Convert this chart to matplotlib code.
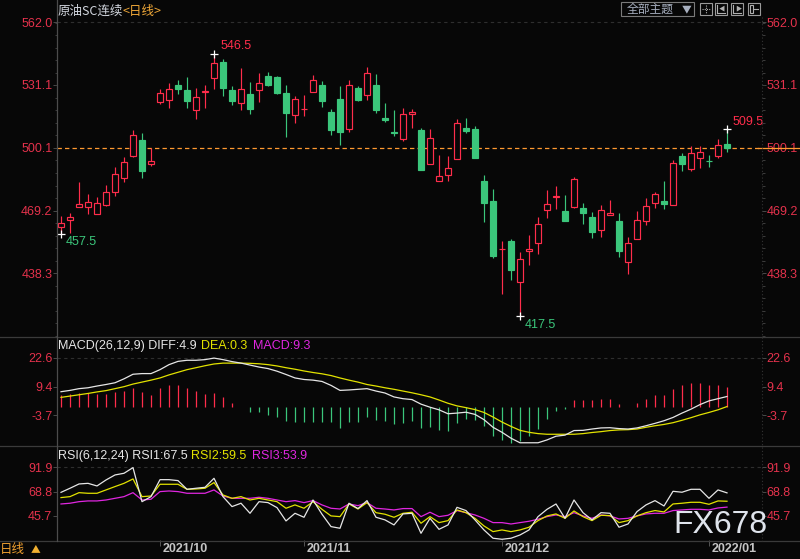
import numpy as np
import matplotlib
matplotlib.use('Agg')
import matplotlib.pyplot as plt
from matplotlib.patches import Rectangle

# ---------------- data ----------------
opens = [461.0, 464.7, 470.9, 470.9, 467.7, 472.2, 478.6, 485.5, 496.2, 504.2,
         492.4, 522.6, 523.6, 531.3, 528.4, 518.6, 527.8, 534.5, 542.2, 528.4,
         522.1, 526.9, 528.5, 535.3, 534.8, 527.4, 516.2, 519.1, 527.5, 531.3,
         518.0, 524.4, 509.3, 529.4, 526.3, 530.9, 515.0, 507.7, 504.5, 516.8,
         509.1, 492.1, 484.0, 486.5, 494.4, 510.1, 509.6, 483.9, 474.0, 450.1,
         454.2, 434.1, 449.4, 453.1, 469.4, 476.1, 469.0, 471.2, 470.4, 466.1,
         459.8, 466.9, 464.1, 444.0, 455.1, 464.0, 472.9, 474.0, 472.2, 496.2,
         489.5, 495.1, 493.8, 495.9, 501.8]
highs = [466.5, 467.9, 483.4, 477.5, 476.0, 481.9, 490.5, 495.4, 509.1, 507.5,
         500.2, 529.2, 532.3, 533.8, 534.8, 529.7, 531.3, 546.5, 543.7, 530.4,
         539.3, 532.8, 536.8, 537.3, 535.3, 530.9, 525.8, 526.4, 535.8, 533.3,
         519.5, 530.4, 533.8, 530.4, 539.8, 536.3, 522.4, 519.0, 520.0, 519.3,
         510.0, 509.5, 496.7, 496.1, 514.5, 515.0, 511.1, 486.9, 479.9, 454.2,
         455.2, 448.8, 457.2, 466.1, 479.4, 481.4, 477.0, 485.9, 473.0, 468.6,
         472.0, 474.5, 468.1, 456.2, 469.1, 475.3, 478.4, 483.9, 494.1, 497.6,
         500.8, 500.8, 496.7, 504.7, 509.5]
lows = [457.5, 458.3, 470.9, 467.7, 467.4, 471.6, 476.6, 483.5, 495.7, 485.5,
        491.0, 521.6, 519.6, 526.7, 519.6, 514.2, 519.6, 529.0, 525.9, 521.0,
        519.0, 517.0, 522.9, 530.4, 526.9, 505.6, 512.2, 515.7, 527.5, 520.1,
        506.3, 501.3, 507.8, 523.1, 523.6, 517.2, 512.7, 505.8, 503.5, 509.7,
        489.0, 492.1, 484.0, 484.0, 494.4, 507.3, 494.9, 463.8, 446.0, 428.2,
        435.1, 417.5, 442.5, 447.9, 465.7, 470.2, 464.3, 470.7, 462.8, 455.9,
        456.3, 466.9, 446.5, 437.8, 455.1, 462.3, 470.7, 470.2, 472.2, 488.8,
        488.5, 490.0, 490.5, 494.9, 497.9]
closes = [463.3, 465.9, 472.4, 473.4, 472.9, 478.3, 487.2, 493.3, 506.5, 488.5,
          493.6, 527.2, 529.2, 529.0, 523.1, 525.3, 528.2, 542.1, 529.4, 523.4,
          528.9, 519.5, 532.3, 530.9, 527.4, 517.2, 524.3, 519.5, 533.7, 523.4,
          509.1, 507.8, 531.3, 523.9, 537.1, 518.6, 513.7, 507.3, 516.8, 517.8,
          489.0, 505.0, 486.2, 490.2, 512.4, 508.3, 495.3, 472.7, 446.8, 450.5,
          440.0, 445.2, 450.4, 462.5, 472.4, 476.5, 464.3, 484.7, 468.2, 458.8,
          469.4, 467.9, 449.4, 453.1, 464.4, 471.4, 477.3, 472.4, 492.8, 492.4,
          497.6, 498.2, 493.4, 501.7, 500.1]

diff = [7.1, 7.7, 8.5, 8.9, 9.7, 10.4, 11.2, 13.0, 15.1, 15.4,
        15.4, 17.2, 19.5, 21.0, 21.5, 21.5, 21.8, 22.5, 21.8, 20.9,
        20.2, 19.3, 18.4, 17.7, 16.5, 15.0, 13.4, 12.7, 12.4, 11.8,
        10.0, 7.7, 7.9, 8.2, 8.5, 7.4, 6.5, 4.7, 3.9, 3.5,
        1.4, 0.0, -1.2, -3.0, -2.7, -2.3, -3.3, -5.7, -9.2, -11.5,
        -14.2, -16.3, -16.3, -16.3, -15.0, -13.3, -12.8, -10.7, -10.6, -10.0,
        -9.5, -9.4, -9.8, -10.0, -9.5, -8.5, -7.4, -6.2, -4.7, -2.7,
        -0.9, 1.2, 2.9, 3.9, 4.9]
dea = [4.5, 5.1, 5.7, 6.3, 7.0, 7.6, 8.5, 9.4, 10.6, 11.5,
       12.4, 13.4, 14.8, 16.0, 17.2, 18.1, 19.0, 19.8, 20.2, 20.2,
       20.2, 20.1, 19.9, 19.5, 18.9, 18.1, 17.4, 16.6, 15.9, 15.3,
       14.5, 13.4, 12.4, 11.5, 10.4, 9.7, 8.9, 8.2, 7.4, 6.6,
       5.7, 4.7, 3.3, 1.8, 0.6, -0.2, -1.1, -2.4, -4.5, -6.8,
       -8.8, -10.6, -11.5, -12.1, -12.4, -12.4, -12.4, -12.4, -12.1, -11.6,
       -11.2, -10.7, -10.4, -10.3, -10.0, -9.2, -8.5, -7.9, -7.1, -6.0,
       -4.8, -3.5, -2.4, -1.2, 0.3]
macd_hist = [5.4, 5.9, 6.3, 6.6, 5.9, 6.2, 7.0, 7.4, 8.6, 7.0,
             5.4, 8.6, 10.0, 10.0, 8.6, 7.4, 5.9, 6.3, 4.5, 2.1,
             0.3, -2.4, -2.4, -3.6, -4.7, -6.2, -6.6, -6.6, -6.6, -6.6,
             -7.0, -9.7, -7.0, -6.6, -4.5, -5.7, -6.2, -7.7, -7.1, -6.2,
             -9.4, -8.9, -10.3, -10.7, -7.1, -5.4, -5.9, -8.5, -13.0, -14.8,
             -16.2, -15.7, -13.4, -10.0, -5.4, -1.7, -0.9, 3.3, 3.3, 3.3,
             3.6, 3.6, 1.4, 0.3, 1.8, 3.6, 5.4, 5.4, 8.5, 10.0,
             10.9, 11.2, 10.4, 10.4, 9.3]

rsi1 = [68.0, 71.9, 76.0, 76.6, 74.1, 79.8, 84.6, 86.2, 91.6, 59.1,
        63.9, 80.1, 80.1, 79.2, 70.9, 71.9, 72.8, 81.4, 63.9, 54.4,
        57.6, 48.0, 59.1, 58.2, 53.4, 40.7, 48.0, 44.2, 60.7, 47.1,
        35.3, 33.7, 57.6, 52.5, 60.1, 44.2, 41.7, 36.9, 47.4, 48.0,
        28.9, 43.2, 32.7, 36.9, 53.7, 50.6, 41.7, 32.1, 24.2, 23.2,
        24.2, 27.3, 32.1, 44.8, 51.8, 56.9, 43.2, 60.7, 48.6, 41.7,
        48.6, 48.0, 34.7, 37.8, 49.6, 56.0, 60.1, 55.0, 69.0, 68.1,
        70.9, 70.9, 62.3, 70.3, 67.5]
rsi2 = [63.0, 63.9, 67.7, 67.1, 67.1, 70.3, 73.5, 76.6, 80.8, 63.9,
        64.5, 75.7, 75.7, 75.7, 70.9, 71.2, 71.9, 77.3, 65.5, 62.3,
        63.9, 60.7, 62.3, 60.7, 59.1, 52.8, 56.0, 52.8, 59.1, 51.8,
        45.5, 44.8, 56.9, 52.1, 58.2, 48.6, 47.1, 44.2, 48.0, 49.0,
        38.5, 44.8, 39.1, 41.0, 51.2, 48.6, 43.2, 35.9, 30.5, 32.1,
        30.5, 32.1, 34.7, 41.0, 45.5, 47.4, 43.2, 50.2, 44.8, 41.0,
        46.1, 45.8, 39.1, 41.0, 45.5, 48.6, 50.6, 49.3, 56.9, 57.6,
        58.5, 58.5, 56.6, 59.8, 59.5]
rsi3 = [56.9, 57.6, 59.1, 59.8, 59.8, 60.7, 62.3, 63.9, 67.7, 60.7,
        61.4, 68.7, 69.3, 68.7, 67.1, 67.1, 67.1, 70.3, 64.5, 62.3,
        62.3, 62.3, 63.3, 62.3, 60.7, 59.1, 60.1, 58.2, 60.1, 56.0,
        52.8, 52.1, 56.9, 55.3, 58.2, 52.8, 52.1, 51.2, 52.5, 52.5,
        44.8, 49.0, 44.8, 46.1, 50.6, 48.6, 46.4, 43.2, 39.1, 39.1,
        37.8, 39.1, 40.4, 42.3, 44.8, 46.4, 44.8, 48.6, 45.5, 43.2,
        46.4, 45.5, 42.6, 43.2, 45.5, 47.4, 48.0, 48.0, 50.6, 51.2,
        51.8, 51.8, 51.2, 53.1, 53.9]

price_ticks = [438.3, 469.2, 500.1, 531.1, 562.0]
macd_ticks = [-3.7, 9.4, 22.6]
rsi_ticks = [45.7, 68.8, 91.9]
date_ticks = [11, 27, 49, 72]
date_labels = ['2021/10', '2021/11', '2021/12', '2022/01']
last_price = 500.1
title_name = '原油SC连续'
title_period = '<日线>'

# ---------------- style ----------------
BG = '#070707'
RED = '#ff2d4b'
GREEN = '#3bc67b'
TICKRED = '#e5324c'
WHITE = '#e6e6e6'
YELLOW = '#e2e200'
MAGENTA = '#e026e0'
ORANGE = '#ff9a30'
SEP = '#3a3a3a'

plt.rcParams['font.family'] = ['Liberation Sans', 'Noto Sans CJK SC', 'DejaVu Sans']
CJK = ['Noto Sans CJK SC', 'DejaVu Sans']

W, H = 800, 559
fig = plt.figure(figsize=(8, 5.59), dpi=100, facecolor=BG)

X0, X1 = 57, 762
XSTEP = 9.0
XFIRST = 61
xlim = (-(XFIRST - X0) / XSTEP, (X1 - XFIRST) / XSTEP)


def px_axes(y0, y1):
    ax = fig.add_axes([X0 / W, 1 - y1 / H, (X1 - X0) / W, (y1 - y0) / H])
    ax.set_facecolor(BG)
    for s in ax.spines.values():
        s.set_visible(False)
    ax.set_xlim(*xlim)
    ax.set_xticks([])
    return ax


def style_y(ax, ticks, fmt):
    ax.set_yticks(ticks)
    ax.set_yticklabels([fmt.format(t) for t in ticks])
    ax.tick_params(axis='y', which='major', left=True, right=True, labelleft=True,
                   labelright=True, direction='out', length=2.6, width=0.7,
                   color='#4a4a4a', labelcolor=TICKRED, labelsize=9, pad=0.8)
    ax.tick_params(axis='y', which='minor', left=True, right=True, direction='out',
                   length=1.8, width=0.7, color='#3c3c3c')


# price mapping  (pixel y -> price)
def price_at(y):
    return 562.0 - (y - 22.3) * 0.4928


ax = px_axes(17, 336)
ax.set_ylim(price_at(336), price_at(17))
style_y(ax, price_ticks, '{:.1f}')
ax.set_yticks([price_ticks[0] + k * 6.18 for k in range(-5, 21)], minor=True)

bw = 7.0 / 9.0
n = len(closes)
for i in range(n):
    o, h, l, c = opens[i], highs[i], lows[i], closes[i]
    up = c >= o
    col = RED if up else GREEN
    top, bot = max(o, c), min(o, c)
    if h > top:
        ax.vlines(i, top, h, color=col, lw=0.85, zorder=3)
    if l < bot:
        ax.vlines(i, l, bot, color=col, lw=0.85, zorder=3)
    hgt = max(top - bot, 0.25)
    if up:
        ax.add_patch(Rectangle((i - bw / 2 + 0.05, bot), bw - 0.1, hgt,
                               facecolor=BG, edgecolor=col, lw=0.85, zorder=4))
    else:
        ax.add_patch(Rectangle((i - bw / 2 + 0.05, bot), bw - 0.1, hgt,
                               facecolor=col, edgecolor=col, lw=0.85, zorder=4))

ax.axhline(price_ticks[-1], color='#2e2e2e', lw=0.8, ls=(0, (3, 3)), zorder=1)
ax.axhline(last_price, color=ORANGE, lw=0.9, ls=(0, (3.5, 2.5)), zorder=2)
ax.plot([(758 - XFIRST) / XSTEP, (800 - XFIRST) / XSTEP], [last_price, last_price],
        color=ORANGE, lw=0.9, clip_on=False, zorder=6)

# extreme markers / labels
imax = int(np.argmax(highs))
imin = int(np.argmin(lows))
i_first = 0
i_last = n - 1
for idx, val in [(imax, highs[imax]), (imin, lows[imin]), (i_first, lows[i_first]),
                 (i_last, highs[i_last])]:
    ax.plot(idx, val, marker='+', color='white', ms=6, mew=0.9, zorder=7, clip_on=False)
ax.text(imax + 0.7, highs[imax] + 3.9, f'{highs[imax]:.1f}', color=RED, fontsize=9,
        ha='left', va='center', zorder=8)
ax.text(i_last + 0.65, highs[i_last] + 3.4, f'{highs[i_last]:.1f}', color=RED, fontsize=9,
        ha='left', va='center', zorder=8, clip_on=False)
ax.text(imin + 0.55, lows[imin] - 4.6, f'{lows[imin]:.1f}', color=GREEN, fontsize=9,
        ha='left', va='center', zorder=8)
ax.text(i_first + 0.55, lows[i_first] - 3.8, f'{lows[i_first]:.1f}', color=GREEN, fontsize=9,
        ha='left', va='center', zorder=8)

# ---------------- MACD ----------------
def macd_at(y):
    return (407.2 - y) * 0.4582


ax2 = px_axes(337, 445)
ax2.set_ylim(macd_at(445), macd_at(337))
style_y(ax2, macd_ticks, '{:.1f}')
xs = np.arange(n)
for i, v in enumerate(macd_hist):
    ax2.vlines(i, 0, v, color=RED if v > 0 else GREEN, lw=0.9)
ax2.plot(xs, dea, color=YELLOW, lw=0.9)
ax2.plot(xs, diff, color=WHITE, lw=0.9)
ax2.axhline(macd_ticks[-1], color='#2e2e2e', lw=0.8, ls=(0, (3, 3)), zorder=0)

# ---------------- RSI ----------------
def rsi_at(y):
    return 91.9 - (y - 467.3) * 0.9545


ax3 = px_axes(446, 540)
ax3.set_ylim(rsi_at(540), rsi_at(446))
style_y(ax3, rsi_ticks, '{:.1f}')
ax3.plot(xs, rsi3, color=MAGENTA, lw=0.9)
ax3.plot(xs, rsi2, color=YELLOW, lw=0.9)
ax3.plot(xs, rsi1, color=WHITE, lw=0.9)
ax3.axhline(rsi_ticks[-1], color='#2e2e2e', lw=0.8, ls=(0, (3, 3)), zorder=0)
ax3.set_xticks(date_ticks)
ax3.set_xticklabels([''] * len(date_ticks))
ax3.tick_params(axis='x', direction='out', length=4.3, width=0.7, color='#555555')
for t, lab in zip(date_ticks, date_labels):
    ax3.annotate(lab, xy=(t, 0), xycoords=('data', 'axes fraction'),
                 xytext=(1.6, -6.7), textcoords='offset points', ha='left', va='center',
                 color='#c4c4c4', fontsize=9, fontweight='bold', annotation_clip=False)

# ---------------- overlay decorations ----------------
fa = fig.add_axes([0, 0, 1, 1])
fa.set_xlim(0, W)
fa.set_ylim(H, 0)
fa.axis('off')
fa.patch.set_alpha(0)

for yy in (336.5, 445.5, 540.5):
    fa.plot([0, W], [yy, yy], color=SEP, lw=0.9)
fa.plot([57, 57], [0, 540.5], color='#4c4c4c', lw=0.9)
fa.plot([762, 762], [17, 540.5], color='#333333', lw=0.8, ls=(0, (1, 2)))

# title
fa.text(58, 11, title_name, color='#d4d8e0', fontsize=9, ha='left', va='center', family=CJK)
fa.text(122.5, 11, title_period, color='#f0a838', fontsize=9, ha='left', va='center', family=CJK)

# MACD header
fa.text(58, 345.7, f'MACD(26,12,9) DIFF:{diff[-1]:.1f}', color=WHITE, fontsize=9,
        ha='left', va='center')
fa.text(201, 345.7, f'DEA:{dea[-1]:.1f}', color=YELLOW, fontsize=9, ha='left', va='center')
fa.text(253, 345.7, f'MACD:{macd_hist[-1]:.1f}', color=MAGENTA, fontsize=9, ha='left', va='center')

# RSI header
fa.text(58, 455.7, f'RSI(6,12,24) RSI1:{rsi1[-1]:.1f}', color=WHITE, fontsize=9,
        ha='left', va='center')
fa.text(191, 455.7, f'RSI2:{rsi2[-1]:.1f}', color=YELLOW, fontsize=9, ha='left', va='center')
fa.text(252, 455.7, f'RSI3:{rsi3[-1]:.1f}', color=MAGENTA, fontsize=9, ha='left', va='center')

# bottom-left period label
fa.text(0, 549.5, '日线', color='#f0a030', fontsize=9, ha='left', va='center', family=CJK)
fa.text(30.5, 549.5, '▲', color='#f0b030', fontsize=7, ha='left', va='center', family=CJK)

# toolbar
fa.add_patch(Rectangle((620.5, 1.5), 73.5, 14.5, facecolor='none', edgecolor='#7a7a7a', lw=0.8))
fa.text(627, 9, '全部主题', color='#a8b0c0', fontsize=8.5, ha='left', va='center', family=CJK)
fa.text(682, 9, '▼', color='#a8b0c0', fontsize=7, ha='left', va='center', family=CJK)
for bx in (699.5, 714.5, 730.5, 747.5):
    fa.add_patch(Rectangle((bx, 2.5), 12, 12.5, facecolor='none', edgecolor='#9a9a9a', lw=0.8))
# icon glyphs
fa.plot([701.5, 709.5], [8.7, 8.7], color='#b0b0b0', lw=0.8, ls=(0, (1, 1)))
fa.plot([705.5, 705.5], [4.5, 13], color='#b0b0b0', lw=0.8, ls=(0, (1, 1)))
fa.plot([717, 717], [4.5, 13], color='#b0b0b0', lw=0.8)
fa.plot([717, 724.5], [12.5, 12.5], color='#b0b0b0', lw=0.8)
fa.text(719, 8.2, '◀', color='#b0b0b0', fontsize=4.5, ha='left', va='center', family=CJK)
fa.plot([733, 733], [4.5, 13], color='#b0b0b0', lw=0.8)
fa.plot([733, 740.5], [12.5, 12.5], color='#b0b0b0', lw=0.8)
fa.text(735, 8.2, '▶', color='#b0b0b0', fontsize=4.5, ha='left', va='center', family=CJK)
fa.add_patch(Rectangle((749.5, 4.5), 3, 8.5, facecolor='none', edgecolor='#b0b0b0', lw=0.8))
fa.plot([752.5, 757.5], [8.7, 8.7], color='#b0b0b0', lw=0.8)

# watermark
fa.text(720.5, 525, 'FX678', color='#dfe4ec', fontsize=23, ha='center', va='center',
        family=['Liberation Sans'], zorder=10)

fig.savefig('out.png', dpi=100, facecolor=BG)
